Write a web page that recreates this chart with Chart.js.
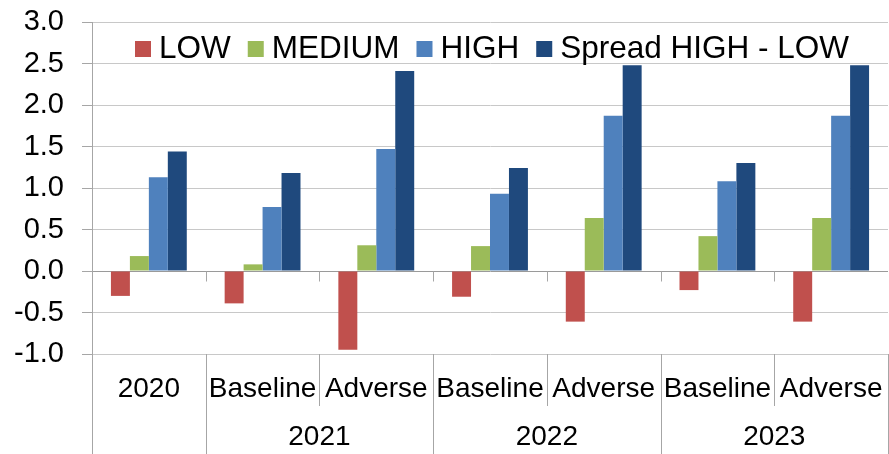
<!DOCTYPE html>
<html>
<head>
<meta charset="utf-8">
<script src="https://cdn.jsdelivr.net/npm/chart.js@4"></script>
<style>
  html, body { margin: 0; padding: 0; background: #fff; }
  #wrap { width: 889px; height: 454px; }
</style>
</head>
<body>
<div id="wrap"><canvas id="riskChart" width="889" height="454"></canvas></div>
<script>
// Data
const scenarios = ["2020", "Baseline", "Adverse", "Baseline", "Adverse", "Baseline", "Adverse"];
const years = ["", "2021", "2021", "2022", "2022", "2023", "2023"];
const seriesNames = ["LOW", "MEDIUM", "HIGH", "Spread HIGH - LOW"];
const lowValues = [-0.30, -0.39, -0.95, -0.31, -0.61, -0.23, -0.61];
const mediumValues = [0.18, 0.08, 0.31, 0.30, 0.64, 0.42, 0.64];
const highValues = [1.13, 0.77, 1.47, 0.93, 1.87, 1.08, 1.87];
const spreadValues = [1.44, 1.18, 2.41, 1.24, 2.48, 1.30, 2.48];
const yMin = -1.0, yMax = 3.0, yStep = 0.5;

const colors = ["#C0504D", "#9BBB59", "#4F81BD", "#1F497D"];
const FONT = "'Liberation Sans', Arial, sans-serif";

Chart.defaults.color = "#000";
Chart.defaults.font.family = FONT;

// legend in one row inside the plot, like the excel one
const inlineLegendPlugin = {
  id: "inlineLegend",
  afterDraw(chart) {
    const ctx = chart.ctx;
    const area = chart.chartArea;
    const box = 16, gap = 8, itemGap = 17;
    ctx.save();
    ctx.font = "31.5px " + FONT;
    ctx.textBaseline = "middle";
    ctx.textAlign = "left";
    const items = chart.data.datasets.map(ds => ({
      text: ds.label,
      color: ds.backgroundColor,
      w: box + gap + ctx.measureText(ds.label).width
    }));
    let x = area.left + 43;
    const yMid = area.top + 26;
    items.forEach(it => {
      ctx.fillStyle = it.color;
      ctx.fillRect(x, yMid - box / 2 + 1, box, box);
      ctx.fillStyle = "#000";
      ctx.fillText(it.text, x + box + gap, yMid + 1);
      x += it.w + itemGap;
    });
    ctx.restore();
  }
};

// year row under the scenario labels + separators
const yearAxisPlugin = {
  id: "yearAxis",
  afterDraw(chart) {
    const ctx = chart.ctx;
    const x = chart.scales.x;
    const y = chart.scales.y;
    const area = chart.chartArea;
    const bottom = chart.height;

    ctx.save();
    ctx.strokeStyle = "#a6a6a6";
    ctx.lineWidth = 1;

    // separators in label area
    for (let i = 0; i <= scenarios.length; i++) {
      const px = Math.round(x.getPixelForValue(i - 0.5)) + 0.5;
      const full = i === 0 || i === scenarios.length || years[i] !== years[i - 1];
      ctx.beginPath();
      ctx.moveTo(px, area.bottom);
      ctx.lineTo(px, full ? bottom : area.bottom + 52);
      ctx.stroke();
    }

    // small ticks at the zero line
    const y0 = Math.round(y.getPixelForValue(0)) + 0.5;
    for (let i = 1; i < scenarios.length; i++) {
      const px = Math.round(x.getPixelForValue(i - 0.5)) + 0.5;
      ctx.beginPath();
      ctx.moveTo(px, y0);
      ctx.lineTo(px, y0 + 10);
      ctx.stroke();
    }

    // year labels centered on their groups
    ctx.fillStyle = "#000";
    ctx.font = "28px " + FONT;
    ctx.textAlign = "center";
    ctx.textBaseline = "middle";
    let start = 0;
    for (let i = 1; i <= years.length; i++) {
      if (i === years.length || years[i] !== years[start]) {
        if (years[start]) {
          const left = x.getPixelForValue(start - 0.5);
          const right = x.getPixelForValue(i - 0.5);
          ctx.fillText(years[start], (left + right) / 2, bottom - 17);
        }
        start = i;
      }
    }
    ctx.restore();
  }
};

const ctx = document.getElementById("riskChart").getContext("2d");
new Chart(ctx, {
  type: "bar",
  data: {
    labels: scenarios,
    datasets: [
      { label: seriesNames[0], data: lowValues, backgroundColor: colors[0] },
      { label: seriesNames[1], data: mediumValues, backgroundColor: colors[1] },
      { label: seriesNames[2], data: highValues, backgroundColor: colors[2] },
      { label: seriesNames[3], data: spreadValues, backgroundColor: colors[3] }
    ]
  },
  options: {
    responsive: false,
    animation: false,
    devicePixelRatio: 1,
    layout: { padding: { top: 22, right: 1, left: 0, bottom: 0 } },
    datasets: {
      bar: { categoryPercentage: 0.667, barPercentage: 1.0, borderWidth: 0 }
    },
    plugins: {
      tooltip: { enabled: false },
      legend: { display: false }
    },
    scales: {
      x: {
        grid: { display: false },
        border: { display: false },
        ticks: {
          font: { size: 28, family: FONT },
          color: "#000",
          padding: 10,
          maxRotation: 0,
          autoSkip: false
        },
        afterFit(axis) {
          axis.height = 100;
          axis.paddingLeft = 0;
          axis.paddingRight = 0;
        }
      },
      y: {
        min: yMin,
        max: yMax,
        ticks: {
          stepSize: yStep,
          font: { size: 29, family: FONT },
          color: "#000",
          padding: 18,
          callback: v => v.toFixed(1)
        },
        grid: {
          color: c => (c.tick && c.tick.value === 0 ? "#9a9a9a" : "#c8c8c8"),
          lineWidth: 1,
          tickLength: 10,
          tickColor: "#a6a6a6"
        },
        border: { color: "#a6a6a6" },
        afterFit(axis) {
          axis.width = 92;
          axis.paddingTop = 0;
          axis.paddingBottom = 0;
        }
      }
    }
  },
  plugins: [yearAxisPlugin, inlineLegendPlugin]
});
</script>
</body>
</html>
